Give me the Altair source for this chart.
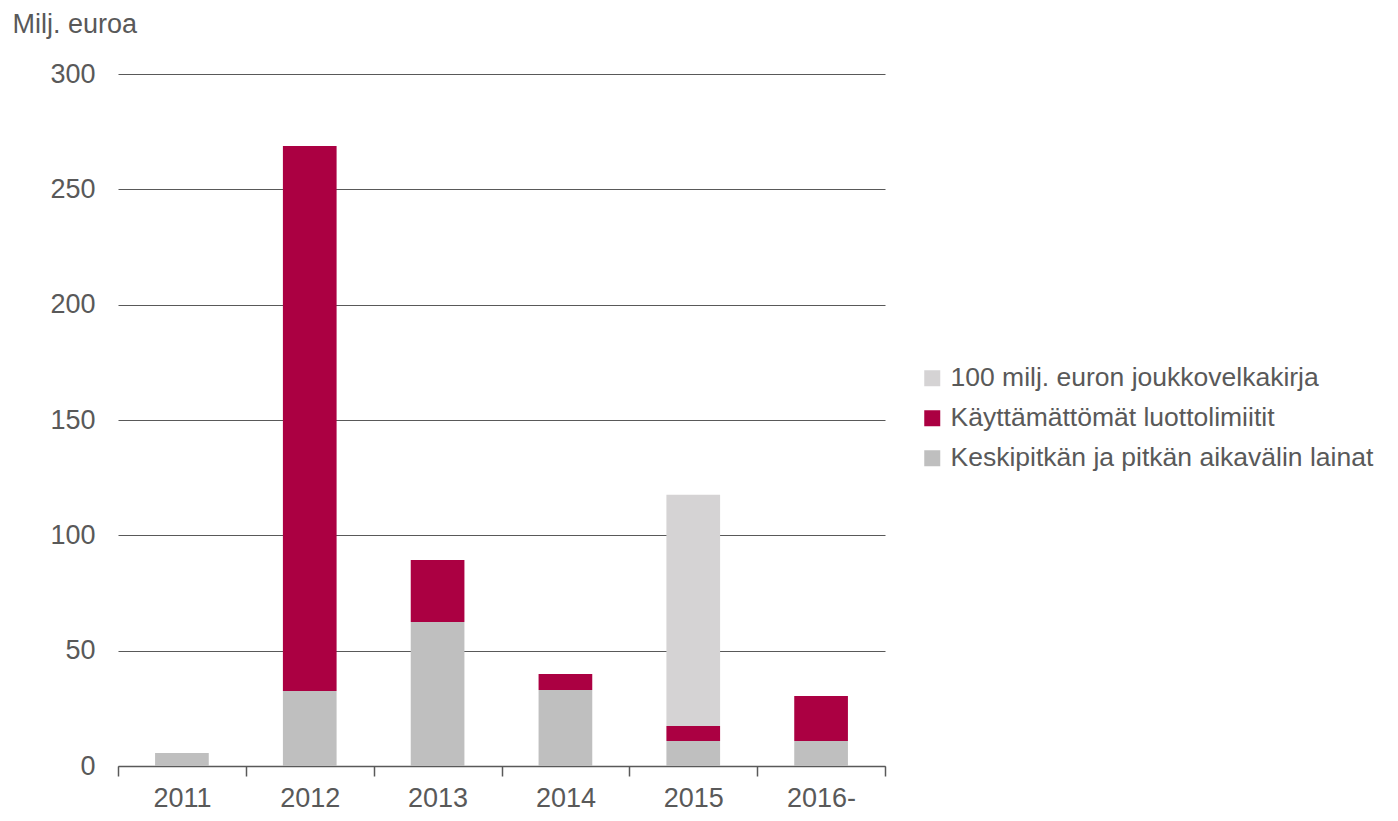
import altair as alt
import pandas as pd

years = ["2011", "2012", "2013", "2014", "2015", "2016-"]
lainat = [5.6, 32.5, 62.4, 33.0, 10.8, 10.8]
limiitit = [0.0, 236.3, 26.9, 6.9, 6.5, 19.5]
joukkovelkakirja = [0.0, 0.0, 0.0, 0.0, 100.3, 0.0]

series = [
    "Keskipitkän ja pitkän aikavälin lainat",
    "Käyttämättömät luottolimiitit",
    "100 milj. euron joukkovelkakirja",
]
colors = ["#bfbfbf", "#ab0042", "#d5d3d4"]

rows = []
for i, y in enumerate(years):
    for k, (name, vals) in enumerate(zip(series, [lainat, limiitit, joukkovelkakirja])):
        rows.append({"year": y, "series": name, "value": vals[i], "order": k})
df = pd.DataFrame(rows)

font = "Liberation Sans"
txt = "#595959"
fs = 27

chart = alt.Chart(df).mark_bar(width=alt.RelativeBandSize(0.42)).encode(
    x=alt.X("year:N", sort=years, title=None,
            scale=alt.Scale(paddingInner=0, paddingOuter=0),
            axis=alt.Axis(labelAngle=0, labelFontSize=fs, labelColor=txt, labelFont=font,
                          tickBand="extent", tickSize=10, tickColor=txt, domainColor=txt,
                          labelPadding=9, domainWidth=1.5, tickWidth=1.5)),
    y=alt.Y("value:Q", stack="zero", title="Milj. euroa",
            scale=alt.Scale(domain=[0, 300]),
            axis=alt.Axis(values=[0, 50, 100, 150, 200, 250, 300], domain=False, ticks=False,
                          labelFontSize=fs, labelColor=txt, labelFont=font, labelPadding=23,
                          gridColor=txt, gridWidth=1,
                          titleAngle=0, titleAlign="left", titleBaseline="middle",
                          titleX=-106, titleY=-50, titleFontSize=27, titleFontWeight="normal",
                          titleColor=txt, titleFont=font)),
    color=alt.Color("series:N", sort=series[::-1],
                    scale=alt.Scale(domain=series[::-1], range=colors[::-1]),
                    legend=alt.Legend(title=None, orient="none", legendX=801, legendY=291,
                                      symbolType="square", symbolSize=256, symbolStrokeWidth=0,
                                      labelFontSize=26.5, labelColor=txt, labelFont=font,
                                      rowPadding=13, labelOffset=5, labelLimit=700)),
    order=alt.Order("order:Q", sort="ascending"),
).properties(
    width=767, height=692,
    autosize=alt.AutoSizeParams(type="none"),
    padding={"left": 110, "top": 66, "right": 505, "bottom": 47},
).configure_view(stroke=None).configure_axis(grid=True).configure_axisX(grid=False)

chart.save("out.html", embed_options={"renderer": "svg", "actions": False})
